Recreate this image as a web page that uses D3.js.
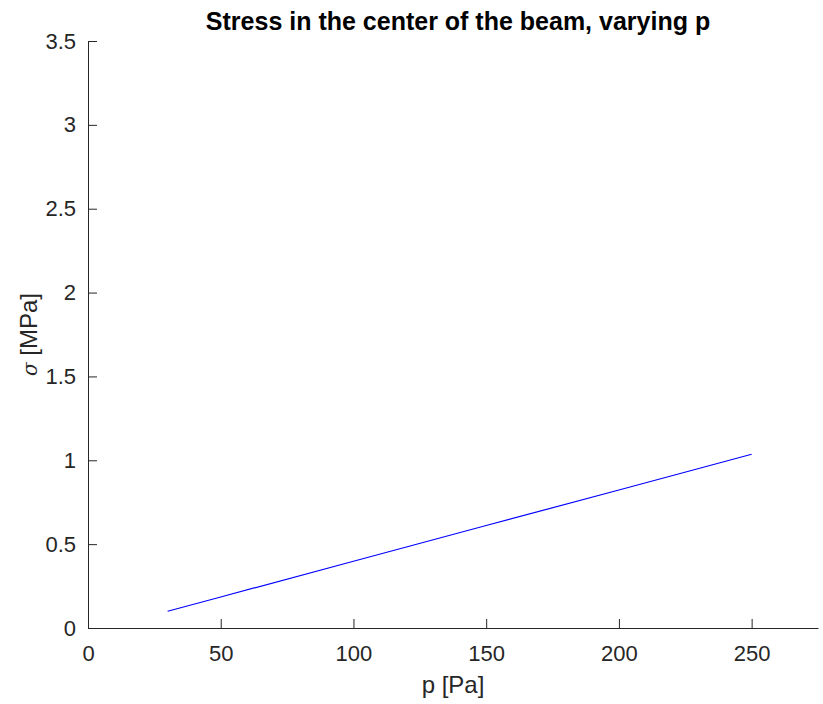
<!DOCTYPE html>
<html>
<head>
<meta charset="utf-8">
<script src="https://cdn.jsdelivr.net/npm/d3@7"></script>
<style>
  body { margin: 0; background: #fff; }
  text { font-family: "Liberation Sans", Arial, sans-serif; fill: #262626; }
</style>
</head>
<body>
<svg id="chart" width="823" height="704"></svg>
<script>
const width = 823;
const height = 704;
const margin = { top: 41, right: 5, bottom: 76, left: 88 };

// values
const pressure = [30, 50, 100, 150, 200, 250];
const stress = [0.1, 0.185, 0.398, 0.611, 0.823, 1.036];
const xTicks = [0, 50, 100, 150, 200, 250];
const yTicks = [0, 0.5, 1, 1.5, 2, 2.5, 3, 3.5];

const svg = d3.select("#chart");

const x = d3.scaleLinear().domain([0, 275]).range([margin.left, width - margin.right]);
const y = d3.scaleLinear().domain([0, 3.5]).range([height - margin.bottom, margin.top]);

// x axis
const xAxis = svg.append("g")
  .attr("transform", `translate(0, ${height - margin.bottom})`)
  .call(d3.axisBottom(x).tickValues(xTicks).tickFormat(d3.format("d"))
    .tickSizeInner(-9).tickSizeOuter(0).tickPadding(17));

// y axis
const yAxis = svg.append("g")
  .attr("transform", `translate(${margin.left}, 0)`)
  .call(d3.axisLeft(y).tickValues(yTicks).tickFormat(d => String(d))
    .tickSizeInner(-9).tickSizeOuter(0).tickPadding(12));

[xAxis, yAxis].forEach(g => {
  g.select(".domain").attr("stroke", "#262626").attr("stroke-width", 1);
  g.selectAll(".tick line").attr("stroke", "#262626");
  g.selectAll(".tick text").attr("font-size", 22).attr("fill", "#262626")
    .attr("font-family", "Liberation Sans, Arial, sans-serif");
});

// the data line
const line = d3.line().x((d, i) => x(pressure[i])).y(d => y(d));
svg.append("path")
  .datum(stress)
  .attr("fill", "none")
  .attr("stroke", "#0000ff")
  .attr("stroke-width", 1.2)
  .attr("d", line);

// title
svg.append("text")
  .attr("x", 458)
  .attr("y", 30)
  .attr("text-anchor", "middle")
  .attr("font-size", 25)
  .attr("font-weight", "bold")
  .style("fill", "#000")
  .text("Stress in the center of the beam, varying p");

// axis labels
svg.append("text")
  .attr("x", (margin.left + width - margin.right) / 2)
  .attr("y", 693)
  .attr("text-anchor", "middle")
  .attr("font-size", 24)
  .text("p [Pa]");

const yl = svg.append("text")
  .attr("transform", `translate(37, ${(margin.top + height - margin.bottom) / 2}) rotate(-90)`)
  .attr("text-anchor", "middle")
  .attr("font-size", 24);
yl.append("tspan").attr("font-style", "italic").attr("font-family", "DejaVu Serif, serif").attr("font-size", 20).text("σ");
yl.append("tspan").text(" [MPa]");
</script>
</body>
</html>
